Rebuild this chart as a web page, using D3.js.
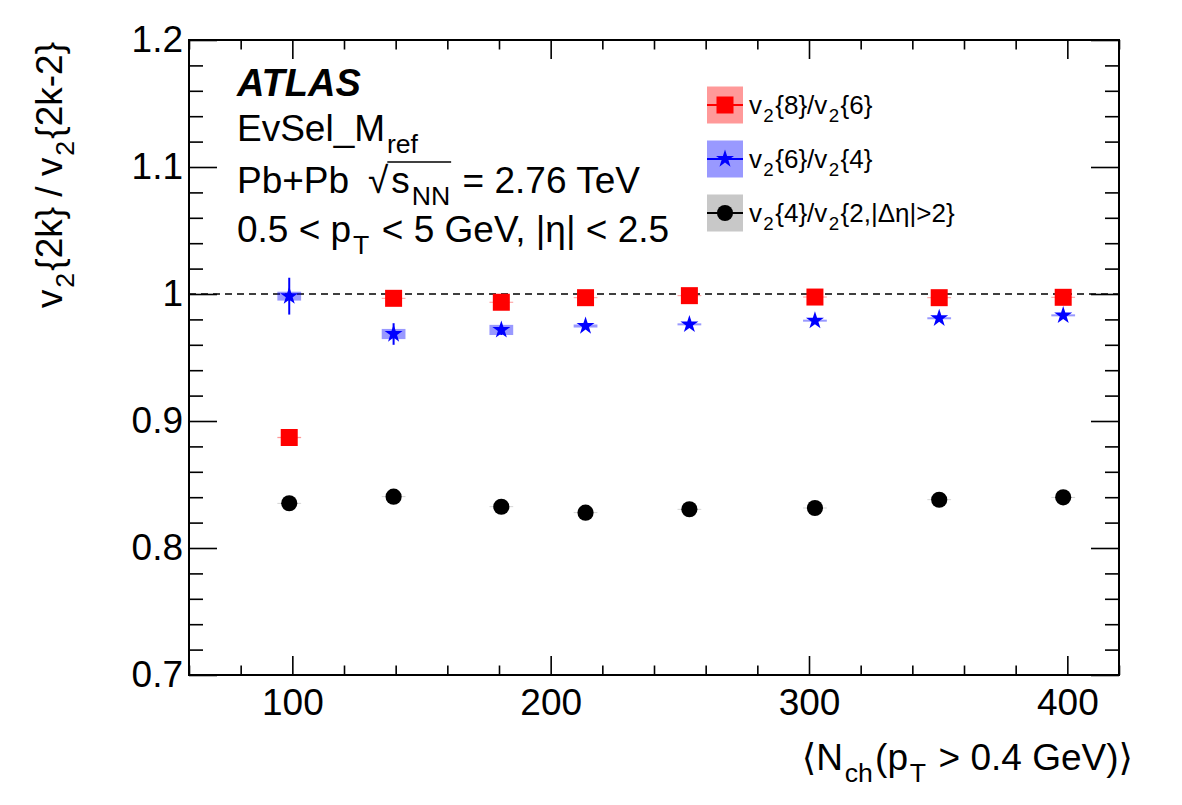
<!DOCTYPE html>
<html>
<head>
<meta charset="utf-8">
<script src="https://cdn.jsdelivr.net/npm/d3@7"></script>
<style>
  body { margin: 0; background: #fff; }
  text { font-family: "Liberation Sans", Arial, Helvetica, sans-serif; fill: #000; }
</style>
</head>
<body>
<svg id="chart" width="1182" height="805"></svg>
<script>
// <Nch> bin centres, shared by all three ratios
const nch = [98.8, 139.2, 180.9, 213.5, 253.7, 302.3, 350.4, 398.4];

// v2{8}/v2{6}
const r86 = [0.887, 0.9966, 0.9935, 0.9971, 0.9987, 0.9976, 0.9971, 0.9974];
const r86Stat = [0.002, 0.001, 0.001, 0.001, 0.001, 0.001, 0.001, 0.001];
const r86Sys = [0.0005, 0.0004, 0.0004, 0.0004, 0.0004, 0.0004, 0.0004, 0.0004];

// v2{6}/v2{4}
const r64 = [0.9983, 0.9685, 0.9717, 0.9748, 0.9761, 0.979, 0.9809, 0.9832];
const r64Stat = [0.0145, 0.0085, 0.004, 0.002, 0.001, 0.001, 0.001, 0.001];
const r64Sys = [0.0035, 0.004, 0.004, 0.0012, 0.0008, 0.0008, 0.0008, 0.0008];

// v2{4}/v2{2,|deta|>2}
const r42 = [0.8352, 0.8404, 0.8325, 0.8278, 0.8305, 0.8315, 0.838, 0.8399];
const r42Stat = [0.001, 0.001, 0.001, 0.001, 0.001, 0.001, 0.001, 0.001];
const r42Sys = [0.0003, 0.0003, 0.0003, 0.0003, 0.0003, 0.0003, 0.0003, 0.0003];

const xTicks = [100, 200, 300, 400];
const yTicks = [0.7, 0.8, 0.9, 1, 1.1, 1.2];
const yTickLabels = ["0.7", "0.8", "0.9", "1", "1.1", "1.2"];

const svg = d3.select("#chart");
const pLeft = 189, pRight = 1119, pTop = 40, pBottom = 675;
const fs = 37;

const x = d3.scaleLinear().domain([60, 420]).range([pLeft, pRight]);
const y = d3.scaleLinear().domain([0.7, 1.2]).range([pBottom, pTop]);

// write text with ROOT-like subscripts (small gaps around them, as TLatex does)
function rich(sel, parts, size) {
  let shift = 0, prevSub = false;
  parts.forEach(p => {
    const target = p.sub ? size * 0.32 : 0;
    const ts = sel.append("tspan").text(p.t).attr("dy", target - shift);
    if (p.sub) ts.attr("font-size", size * 0.72).attr("dx", size * 0.05);
    else if (prevSub) ts.attr("dx", size * 0.06);
    if (p.dx) ts.attr("dx", p.dx);
    if (p.font) ts.style("font-family", p.font);
    shift = target;
    prevSub = !!p.sub;
  });
  return sel;
}

// axes
const minorX = x.ticks(18).filter(d => !xTicks.includes(d));
const minorY = y.ticks(25).filter(d => !yTicks.some(t => Math.abs(t - d) < 1e-9));

function styleAxis(g) {
  g.select(".domain").remove();
  g.selectAll(".tick line").attr("stroke", "#000").attr("stroke-width", 1.6);
  g.selectAll("text").attr("font-size", fs).attr("fill", "#000")
    .style("font-family", "'Liberation Sans', Arial, sans-serif");
}

svg.append("g").attr("transform", `translate(0,${pBottom})`)
  .call(d3.axisBottom(x).tickValues(xTicks).tickSize(-19).tickPadding(14).tickFormat(d3.format("d")))
  .call(styleAxis);
svg.append("g").attr("transform", `translate(0,${pBottom})`)
  .call(d3.axisBottom(x).tickValues(minorX).tickSize(-9.5).tickFormat(""))
  .call(styleAxis);
svg.append("g").attr("transform", `translate(0,${pTop})`)
  .call(d3.axisTop(x).tickValues(xTicks).tickSize(-19).tickFormat(""))
  .call(styleAxis);
svg.append("g").attr("transform", `translate(0,${pTop})`)
  .call(d3.axisTop(x).tickValues(minorX).tickSize(-9.5).tickFormat(""))
  .call(styleAxis);

svg.append("g").attr("transform", `translate(${pLeft},0)`)
  .call(d3.axisLeft(y).tickValues(yTicks).tickSize(-28).tickPadding(6)
    .tickFormat((d, i) => yTickLabels[i]))
  .call(styleAxis);
svg.append("g").attr("transform", `translate(${pLeft},0)`)
  .call(d3.axisLeft(y).tickValues(minorY).tickSize(-14).tickFormat(""))
  .call(styleAxis);
svg.append("g").attr("transform", `translate(${pRight},0)`)
  .call(d3.axisRight(y).tickValues(yTicks).tickSize(-28).tickFormat(""))
  .call(styleAxis);
svg.append("g").attr("transform", `translate(${pRight},0)`)
  .call(d3.axisRight(y).tickValues(minorY).tickSize(-14).tickFormat(""))
  .call(styleAxis);

svg.append("rect")
  .attr("x", pLeft).attr("y", pTop)
  .attr("width", pRight - pLeft).attr("height", pBottom - pTop)
  .attr("fill", "none").attr("stroke", "#000").attr("stroke-width", 2);

// reference line at unity
svg.append("line")
  .attr("x1", pLeft).attr("x2", pRight)
  .attr("y1", y(1)).attr("y2", y(1))
  .attr("stroke", "#000").attr("stroke-width", 1.3)
  .attr("stroke-dasharray", "7,5");

// series
const series = [
  { vals: r42, stat: r42Stat, sys: r42Sys, color: "#000000", box: "#c8c8c8", sym: d3.symbolCircle, size: 205 },
  { vals: r64, stat: r64Stat, sys: r64Sys, color: "#0000ff", box: "rgba(0,0,255,0.4)", sym: d3.symbolStar, size: 100 },
  { vals: r86, stat: r86Stat, sys: r86Sys, color: "#ff0000", box: "rgba(255,0,0,0.4)", sym: d3.symbolSquare, size: 289 }
];

series.forEach(s => {
  const pts = nch.map((n, i) => ({ n, v: s.vals[i], e: s.stat[i], sy: s.sys[i] }));
  const g = svg.append("g");
  g.selectAll("rect.sys").data(pts).enter().append("rect")
    .attr("class", "sys")
    .attr("x", d => x(d.n - 4.6)).attr("width", d => x(d.n + 4.6) - x(d.n - 4.6))
    .attr("y", d => y(d.v + d.sy)).attr("height", d => y(d.v - d.sy) - y(d.v + d.sy))
    .attr("fill", s.box);
  g.selectAll("line.stat").data(pts).enter().append("line")
    .attr("class", "stat")
    .attr("x1", d => x(d.n)).attr("x2", d => x(d.n))
    .attr("y1", d => y(d.v + d.e)).attr("y2", d => y(d.v - d.e))
    .attr("stroke", s.color).attr("stroke-width", 2);
  g.selectAll("path.mk").data(pts).enter().append("path")
    .attr("class", "mk")
    .attr("transform", d => `translate(${x(d.n)},${y(d.v)})`)
    .attr("d", d3.symbol().type(s.sym).size(s.size)())
    .attr("fill", s.color);
});

// legend
const legend = [
  { s: series[2], parts: [{ t: "v" }, { t: "2", sub: true }, { t: "{8}/v" }, { t: "2", sub: true }, { t: "{6}" }] },
  { s: series[1], parts: [{ t: "v" }, { t: "2", sub: true }, { t: "{6}/v" }, { t: "2", sub: true }, { t: "{4}" }] },
  { s: series[0], parts: [{ t: "v" }, { t: "2", sub: true }, { t: "{4}/v" }, { t: "2", sub: true }, { t: "{2,|Δη|>2}" }] }
];
const lgX = 707, lgY0 = 105, lgStep = 54, lfs = 26;
legend.forEach((l, i) => {
  const cy = lgY0 + i * lgStep;
  svg.append("rect").attr("x", lgX).attr("y", cy - 18.5).attr("width", 36).attr("height", 37)
    .attr("fill", l.s.box);
  svg.append("line").attr("x1", lgX).attr("x2", lgX + 36).attr("y1", cy).attr("y2", cy)
    .attr("stroke", l.s.color).attr("stroke-width", 2);
  svg.append("path").attr("transform", `translate(${lgX + 18},${cy})`)
    .attr("d", d3.symbol().type(l.s.sym).size(l.s.size)()).attr("fill", l.s.color);
  rich(svg.append("text").attr("x", lgX + 42).attr("y", cy + 9).attr("font-size", lfs), l.parts, lfs);
});

// ATLAS label block
const tx = 237;
svg.append("text").attr("x", tx).attr("y", 96).attr("font-size", fs + 1)
  .attr("font-weight", "bold").attr("font-style", "italic").text("ATLAS");
rich(svg.append("text").attr("x", tx).attr("y", 141).attr("font-size", fs),
  [{ t: "EvSel_M" }, { t: "ref", sub: true }], fs);
svg.append("text").attr("x", tx).attr("y", 193).attr("font-size", fs).text("Pb+Pb");
const sq = rich(svg.append("text").attr("x", 368).attr("y", 193).attr("font-size", fs),
  [{ t: "√" }, { t: "s", dx: 3 }, { t: "NN", sub: true }, { t: " = 2.76 TeV" }], fs);
{
  const node = sq.node();
  const x0 = node.getEndPositionOfChar(0).x - 1;
  const x1 = node.getEndPositionOfChar(3).x + 1;
  svg.append("line").attr("x1", x0).attr("x2", x1).attr("y1", 162).attr("y2", 162)
    .attr("stroke", "#000").attr("stroke-width", 1.5);
}
rich(svg.append("text").attr("x", tx).attr("y", 242).attr("font-size", fs),
  [{ t: "0.5 < p" }, { t: "T", sub: true }, { t: " < 5 GeV, |η| < 2.5" }], fs);

// axis titles
rich(svg.append("text").attr("x", 1133).attr("y", 770).attr("font-size", fs).attr("text-anchor", "end"),
  [{ t: "⟨", font: "DejaVu Sans" }, { t: "N" }, { t: "ch", sub: true }, { t: "(p" }, { t: "T", sub: true },
   { t: " > 0.4 GeV)" }, { t: "⟩", font: "DejaVu Sans" }], fs);

rich(svg.append("text").attr("transform", "translate(62,42) rotate(-90)")
  .attr("font-size", fs).attr("text-anchor", "end"),
  [{ t: "v" }, { t: "2", sub: true }, { t: "{2k} / v" }, { t: "2", sub: true }, { t: "{2k-2}" }], fs);
</script>
</body>
</html>
